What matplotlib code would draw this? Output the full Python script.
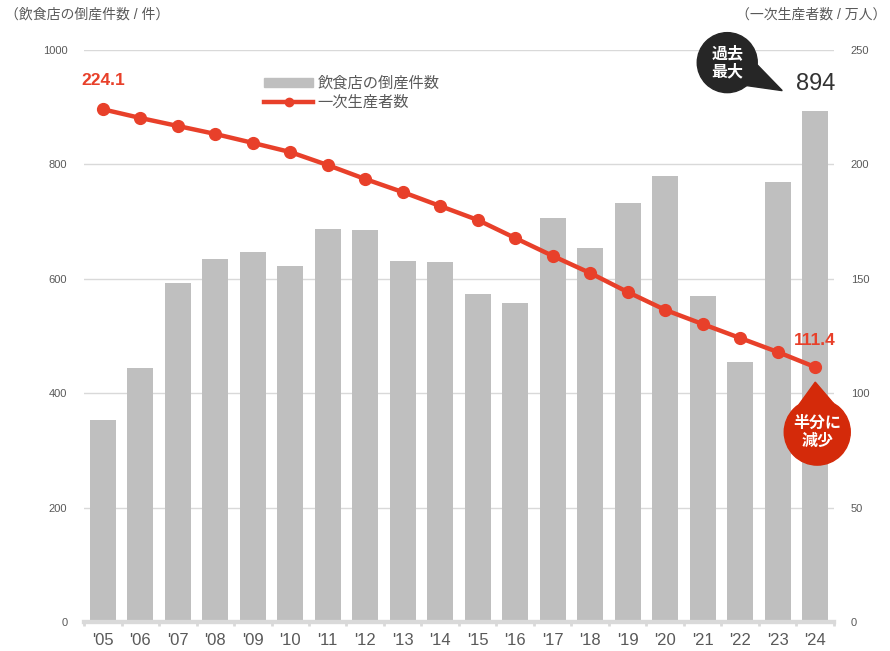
import matplotlib.pyplot as plt
import matplotlib.patches as mpatches
import matplotlib.lines as mlines
import matplotlib.transforms as mtransforms
import numpy as np

plt.rcParams["font.family"] = ["Liberation Sans", "Noto Sans CJK JP", "DejaVu Sans"]

years = ["'05", "'06", "'07", "'08", "'09", "'10", "'11", "'12", "'13", "'14",
         "'15", "'16", "'17", "'18", "'19", "'20", "'21", "'22", "'23", "'24"]
bankruptcies = [353, 444, 593, 635, 647, 622, 687, 685, 631, 629,
                573, 558, 706, 654, 733, 780, 570, 455, 769, 894]
producers = [224.1, 220.3, 216.8, 213.3, 209.4, 205.4, 199.7, 193.6, 187.9, 181.8,
             175.7, 167.8, 160.0, 152.5, 144.2, 136.4, 130.2, 124.1, 118.0, 111.4]

bar_color = "#bfbfbf"
line_color = "#e8402a"
grid_color = "#d9d9d9"
text_color = "#595959"

fig = plt.figure(figsize=(8.9, 6.51), dpi=100)
ax = fig.add_axes([84 / 890, 1 - 622 / 651, 750 / 890, 572 / 651])
ax2 = ax.twinx()

x = np.arange(len(years))
ax.bar(x, bankruptcies, width=0.7, color=bar_color, zorder=2)
ax.set_xlim(-0.5, len(years) - 0.5)
ax.set_ylim(0, 1000)
ax.set_yticks([0, 200, 400, 600, 800, 1000])
ax.grid(axis="y", color=grid_color, lw=1, zorder=0)
ax.set_axisbelow(True)
ax.set_xticks(x)
ax.set_xticklabels(years, fontsize=12, color=text_color)
ax.set_xticks(np.arange(len(years) + 1) - 0.5, minor=True)
ax.tick_params(axis="x", which="major", length=0, pad=8)
ax.tick_params(axis="x", which="minor", length=3, width=2, color=grid_color)
ax.tick_params(axis="y", length=0, pad=12, labelsize=8, colors=text_color)

for a in (ax, ax2):
    for s in ("top", "left", "right"):
        a.spines[s].set_visible(False)
    a.spines["bottom"].set_color(grid_color)
    a.spines["bottom"].set_linewidth(3)

ax2.plot(x, producers, color=line_color, lw=3.2, marker="o", ms=8.5, zorder=5)
ax2.set_ylim(0, 250)
ax2.set_yticks([0, 50, 100, 150, 200, 250])
ax2.tick_params(axis="y", length=0, pad=12, labelsize=8, colors=text_color)

# axis titles
fig.text(5 / 890, 1 - 15 / 651, "（飲食店の倒産件数 / 件）", fontsize=10,
         color=text_color, ha="left", va="center")
fig.text(886 / 890, 1 - 15 / 651, "（一次生産者数 / 万人）", fontsize=10,
         color=text_color, ha="right", va="center")

# legend
h_bar = mpatches.Patch(color=bar_color, label="飲食店の倒産件数")
h_line = mlines.Line2D([], [], color=line_color, lw=3.2, marker="o", ms=6,
                       label="一次生産者数")
ax.legend(handles=[h_bar, h_line], loc="upper left", bbox_to_anchor=(0.222, 0.978),
          frameon=False, fontsize=11, handlelength=3.2, handleheight=0.6,
          labelspacing=0.3, handletextpad=0.3, labelcolor=text_color)

# value labels
ax2.annotate(f"{producers[0]:.1f}", (x[0], producers[0]), xytext=(0, 15),
             textcoords="offset points", ha="center", va="bottom",
             fontsize=12.5, fontweight="bold", color=line_color)
ax2.annotate(f"{producers[-1]:.1f}", (x[-1], producers[-1]), xytext=(0, 14),
             textcoords="offset points", ha="center", va="bottom",
             fontsize=12.5, fontweight="bold", color=line_color)
ax.annotate(f"{bankruptcies[-1]}", (x[-1], bankruptcies[-1]), xytext=(0, 11),
            textcoords="offset points", ha="center", va="bottom",
            fontsize=17, color="#333333")


def bubble(axis, xd, yd, center, radius, tip, color, text, spread):
    # shape in inches relative to a data point
    tr = fig.dpi_scale_trans + mtransforms.ScaledTranslation(xd, yd, axis.transData)
    cx, cy = center
    tx, ty = tip
    ang = np.arctan2(ty - cy, tx - cx)
    a1, a2 = ang + spread, ang - spread
    tri = [(cx + radius * np.cos(a1), cy + radius * np.sin(a1)), (tx, ty),
           (cx + radius * np.cos(a2), cy + radius * np.sin(a2))]
    axis.add_patch(mpatches.Circle((cx, cy), radius, transform=tr, color=color,
                                   zorder=10, clip_on=False))
    axis.add_patch(mpatches.Polygon(tri, closed=True, transform=tr, color=color,
                                    zorder=10, clip_on=False))
    axis.text(cx, cy, text, transform=tr, ha="center", va="center", color="white",
              fontsize=11.5, fontweight="bold", linespacing=1.15, zorder=11,
              family=["Noto Sans CJK JP", "DejaVu Sans"])


bubble(ax2, x[-1], producers[-1], (0.02, -0.65), 0.33, (0.0, -0.15),
       "#d42a0a", "半分に\n減少", 0.55)
bubble(ax, x[-1], bankruptcies[-1], (-0.88, 0.48), 0.30, (-0.33, 0.20),
       "#262626", "過去\n最大", 0.4)

fig.savefig("out.png", dpi=100)
